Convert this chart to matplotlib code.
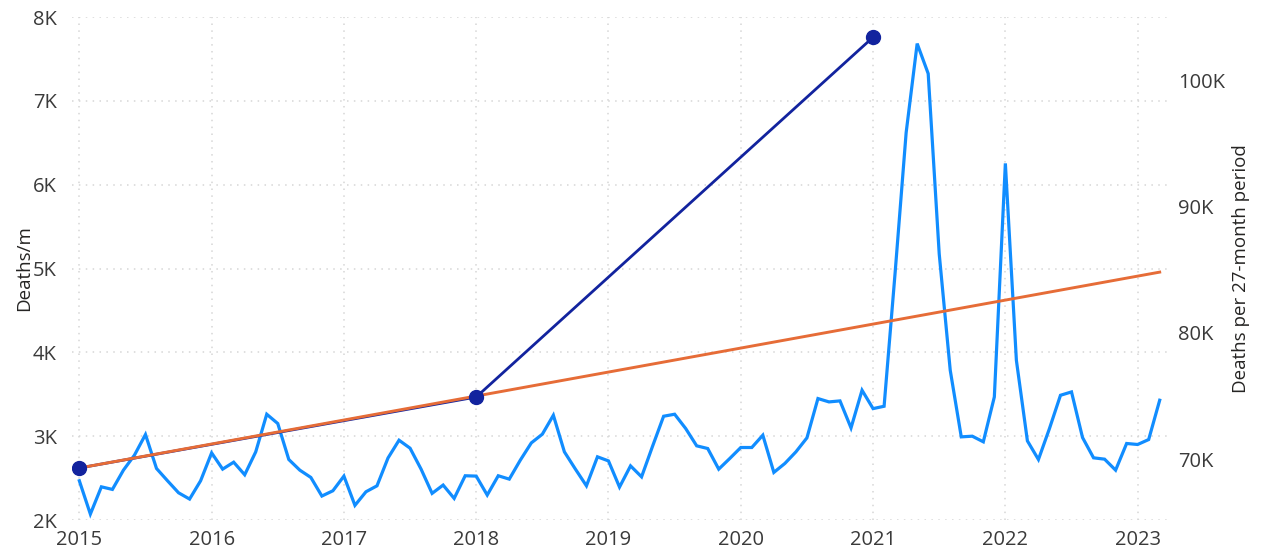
import matplotlib.pyplot as plt  # plotting
import numpy as np  # month positions

# Monthly deaths (left axis), Jan 2015 -> Mar 2023
deaths_2015 = [2468, 2071, 2396, 2365, 2595, 2774, 3020, 2615, 2468, 2325, 2250, 2468]
deaths_2016 = [2801, 2607, 2690, 2540, 2813, 3262, 3151, 2722, 2595, 2508, 2286, 2349]
deaths_2017 = [2524, 2175, 2337, 2408, 2740, 2952, 2857, 2607, 2318, 2417, 2258, 2528]
deaths_2018 = [2524, 2298, 2528, 2488, 2714, 2920, 3024, 3250, 2813, 2607, 2408, 2754]
deaths_2019 = [2705, 2393, 2646, 2515, 2881, 3238, 3262, 3092, 2885, 2853, 2607, 2734]
deaths_2020 = [2865, 2865, 3012, 2568, 2675, 2813, 2980, 3449, 3409, 3421, 3099, 3548]
deaths_2021 = [3329, 3357, 4950, 6620, 7683, 7325, 5175, 3786, 2992, 3000, 2933, 3468]
deaths_2022 = [6254, 3905, 2944, 2722, 3091, 3488, 3528, 2984, 2742, 2726, 2595, 2913]
deaths_2023 = [2901, 2960, 3429]

monthly = (deaths_2015 + deaths_2016 + deaths_2017 + deaths_2018 + deaths_2019
           + deaths_2020 + deaths_2021 + deaths_2022 + deaths_2023)

# Deaths per 27-month period (right axis)
period_years = [2015, 2018, 2021]
period_deaths = [69290, 74910, 103400]

# Trend line (right axis), start and end
trend_years = [2015, 2023 + 2 / 12]
trend_deaths = [69290, 84800]

years = [2015, 2016, 2017, 2018, 2019, 2020, 2021, 2022, 2023]
left_ticks = [2000, 3000, 4000, 5000, 6000, 7000, 8000]
left_labels = ["2K", "3K", "4K", "5K", "6K", "7K", "8K"]
right_ticks = [70000, 80000, 90000, 100000]
right_labels = ["70K", "80K", "90K", "100K"]

plt.rcParams['font.family'] = ['Open Sans', 'DejaVu Sans']

x_month = 2015 + np.arange(len(monthly)) / 12

fig = plt.figure(figsize=(12.62, 5.56), dpi=100)
ax = fig.add_axes([0.0571, 0.0647, 0.8676, 0.9047])
ax2 = ax.twinx()

# light dotted grid
grid_color = '#d6d6d6'
ax.grid(True, color=grid_color, linestyle=(0, (1, 3.5)), linewidth=1.1)
ax.set_axisbelow(True)

ax.plot(x_month, monthly, color='#118DFF', linewidth=2.3, solid_joinstyle='miter')

ax2.plot(period_years, period_deaths, color='#12239E', linewidth=2.0, zorder=2)
ax2.plot(trend_years, trend_deaths, color='#E66C37', linewidth=2.1, zorder=3)
ax2.plot(period_years, period_deaths, 'o', color='#12239E', markersize=10, zorder=4)

pad = 0.055
ax.set_xlim(2015 - pad, 2023 + 2 / 12 + pad)
ax.set_ylim(2000, 8000)
ax2.set_ylim(65170, 105000)

ax.set_xticks(years)
ax.set_xticklabels([str(y) for y in years])
ax.set_yticks(left_ticks)
ax.set_yticklabels(left_labels)
ax2.set_yticks(right_ticks)
ax2.set_yticklabels(right_labels)

tick_color = '#3a3a3a'
ax.tick_params(axis='x', length=0, pad=7, labelsize=14.5, colors=tick_color)
ax.tick_params(axis='y', length=0, pad=11, labelsize=14.5, colors=tick_color)
ax2.tick_params(axis='y', length=0, pad=8, labelsize=14.5, colors=tick_color)

for a in (ax, ax2):
    for s in a.spines.values():
        s.set_visible(False)

ax.set_ylabel("Deaths/m", fontsize=13.5, color='#252423')
ax.yaxis.set_label_coords(-0.036, 0.5)
ax2.set_ylabel("Deaths per 27-month period", fontsize=13.5, color='#252423', labelpad=5)

fig.savefig("out.png", dpi=100)
